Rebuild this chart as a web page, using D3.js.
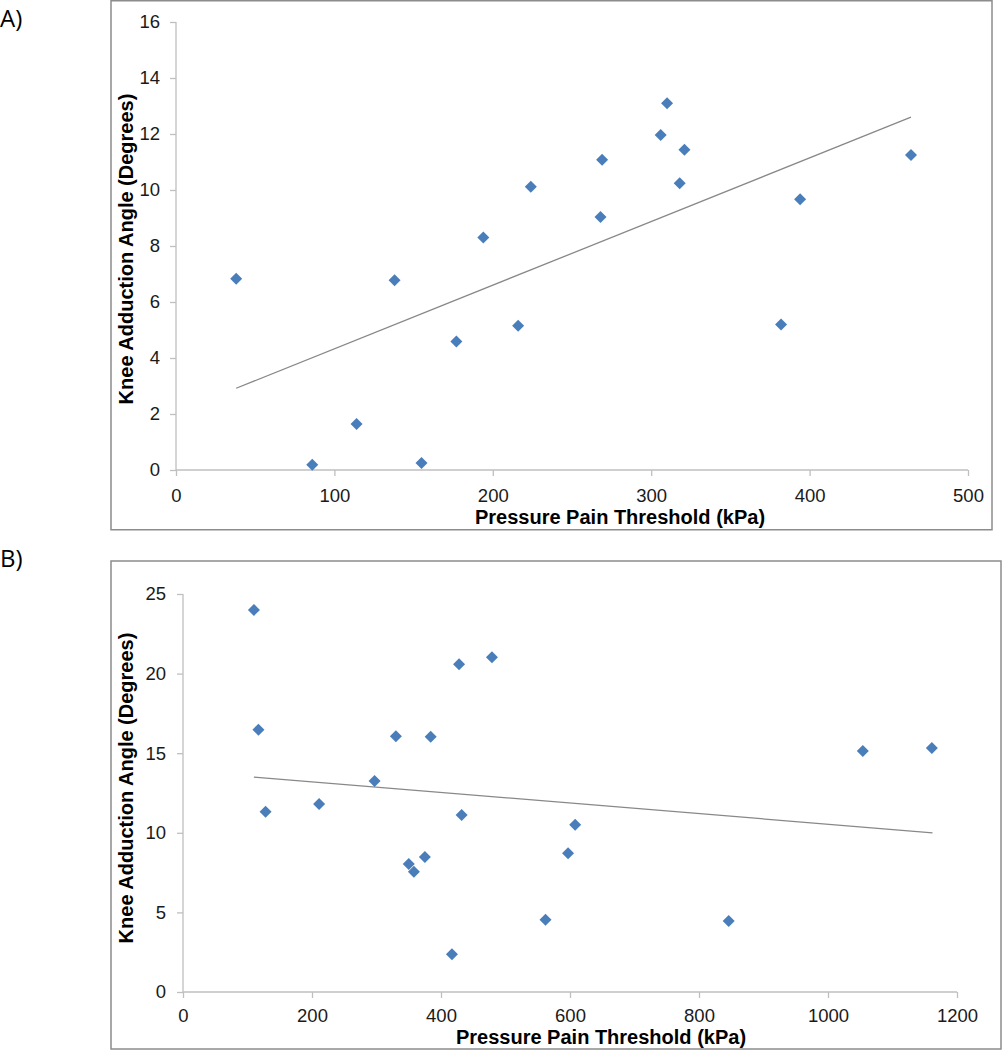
<!DOCTYPE html>
<html>
<head>
<meta charset="utf-8">
<script src="https://cdn.jsdelivr.net/npm/d3@7"></script>
<style>
  html, body { margin: 0; padding: 0; background: #fff; }
  svg { display: block; }
</style>
</head>
<body>
<svg id="chart" width="1002" height="1050"></svg>
<script>
// ---------- DATA ----------
const panelLabels = ["A)", "B)"];
const xTitle = "Pressure Pain Threshold (kPa)";
const yTitle = "Knee Adduction Angle (Degrees)";

// Panel A
const xTicksA = [0, 100, 200, 300, 400, 500];
const yTicksA = [0, 2, 4, 6, 8, 10, 12, 14, 16];
const pptA = [38, 86, 114, 138, 155, 177, 194, 216, 224, 268, 269, 306, 310, 318, 321, 382, 394, 464];
const angleA = [6.83, 0.19, 1.64, 6.78, 0.25, 4.59, 8.3, 5.15, 10.12, 9.04, 11.08, 11.96, 13.1, 10.24, 11.44, 5.2, 9.67, 11.25];
const trendPptA = [38, 464];
const trendAngleA = [2.92, 12.6];

// Panel B
const xTicksB = [0, 200, 400, 600, 800, 1000, 1200];
const yTicksB = [0, 5, 10, 15, 20, 25];
const pptB = [110, 117, 128, 211, 297, 330, 350, 358, 375, 384, 417, 428, 432, 479, 562, 597, 608, 846, 1054, 1161];
const angleB = [24.0, 16.48, 11.33, 11.81, 13.25, 16.06, 8.04, 7.56, 8.48, 16.04, 2.37, 20.58, 11.12, 21.02, 4.54, 8.71, 10.51, 4.46, 15.14, 15.33];
const trendPptB = [110, 1162];
const trendAngleB = [13.5, 10.0];

// ---------- LAYOUT ----------
const panels = [
  { label: panelLabels[0], labelY: 27,
    frame: { x: 111, y: 0.75, w: 881, h: 529 },
    plot: { x0: 176, x1: 968, yTop: 22, yBot: 470 },
    xDomain: [0, 500], yDomain: [0, 16], xTicks: xTicksA, yTicks: yTicksA,
    xs: pptA, ys: angleA, tx: trendPptA, ty: trendAngleA,
    yPad: 10, xPad: 13, xTitleX: 620, xTitleY: 524, yTitleCY: 249 },
  { label: panelLabels[1], labelY: 567,
    frame: { x: 111, y: 561, w: 890, h: 488 },
    plot: { x0: 183, x1: 957, yTop: 594, yBot: 992 },
    xDomain: [0, 1200], yDomain: [0, 25], xTicks: xTicksB, yTicks: yTicksB,
    xs: pptB, ys: angleB, tx: trendPptB, ty: trendAngleB,
    yPad: 11, xPad: 11, xTitleX: 601, xTitleY: 1044, yTitleCY: 788 }
];

const svg = d3.select("#chart");
const axisColor = "#bfbfbf";
const fontFam = "'Liberation Sans', Arial, sans-serif";

panels.forEach(p => {
  const g = svg.append("g");

  // panel label
  g.append("text")
    .attr("x", 0).attr("y", p.labelY)
    .attr("font-family", "'Open Sans', 'Noto Sans', sans-serif")
    .attr("font-size", 24)
    .attr("fill", "#000")
    .text(p.label);

  // frame
  g.append("rect")
    .attr("x", p.frame.x).attr("y", p.frame.y)
    .attr("width", p.frame.w).attr("height", p.frame.h)
    .attr("fill", "#fff").attr("stroke", "#8c8c8c").attr("stroke-width", 1.5);

  const x = d3.scaleLinear().domain(p.xDomain).range([p.plot.x0, p.plot.x1]);
  const y = d3.scaleLinear().domain(p.yDomain).range([p.plot.yBot, p.plot.yTop]);

  const ya = g.append("g")
    .attr("transform", `translate(${p.plot.x0},0)`)
    .call(d3.axisLeft(y).tickValues(p.yTicks).tickSize(6).tickPadding(p.yPad).tickFormat(d3.format("d")));
  const xa = g.append("g")
    .attr("transform", `translate(0,${p.plot.yBot})`)
    .call(d3.axisBottom(x).tickValues(p.xTicks).tickSize(6).tickPadding(p.xPad).tickFormat(d3.format("d")));

  [ya, xa].forEach(a => {
    a.select(".domain").attr("stroke", axisColor).attr("stroke-width", 1.3);
    a.selectAll(".tick line").attr("stroke", axisColor).attr("stroke-width", 1.3);
    a.selectAll(".tick text")
      .attr("font-family", fontFam).attr("font-size", 18.5).attr("fill", "#1a1a1a");
  });
  ya.select(".domain").attr("d", `M0,${p.plot.yTop}V${p.plot.yBot}`);
  xa.select(".domain").attr("d", `M${p.plot.x0},0H${p.plot.x1}`);

  // trend line
  const trend = p.tx.map((v, i) => [v, p.ty[i]]);
  g.append("path")
    .datum(trend)
    .attr("d", d3.line().x(d => x(d[0])).y(d => y(d[1])))
    .attr("fill", "none").attr("stroke", "#888").attr("stroke-width", 1.3);

  // points (diamonds)
  const pts = p.xs.map((v, i) => ({ x: v, y: p.ys[i] }));
  const sym = d3.symbol().type(d3.symbolSquare).size(72);
  g.selectAll("path.pt").data(pts).enter().append("path")
    .attr("class", "pt")
    .attr("d", sym)
    .attr("transform", d => `translate(${x(d.x)},${y(d.y)}) rotate(45)`)
    .attr("fill", "#4a7ebb");

  // axis titles
  g.append("text")
    .attr("x", p.xTitleX).attr("y", p.xTitleY)
    .attr("text-anchor", "middle")
    .attr("font-family", fontFam).attr("font-weight", "bold").attr("font-size", 20)
    .attr("fill", "#000")
    .text(xTitle);

  g.append("text")
    .attr("transform", `translate(133,${p.yTitleCY}) rotate(-90)`)
    .attr("text-anchor", "middle")
    .attr("font-family", fontFam).attr("font-weight", "bold").attr("font-size", 20)
    .attr("fill", "#000")
    .text(yTitle);
});
</script>
</body>
</html>
